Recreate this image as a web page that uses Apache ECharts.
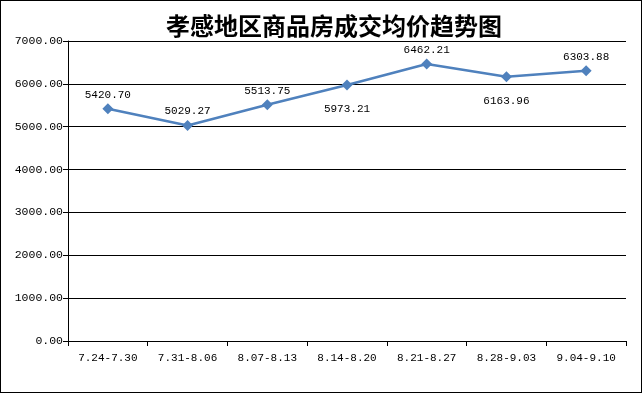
<!DOCTYPE html>
<html><head><meta charset="utf-8">
<script src="https://cdn.jsdelivr.net/npm/echarts@6/dist/echarts.min.js"></script>
<style>html,body{margin:0;padding:0;background:#fff}#c{width:642px;height:393px;box-sizing:border-box;border:1px solid #000}</style>
</head><body><div id="c"></div>
<script>
const categories = ['7.24-7.30','7.31-8.06','8.07-8.13','8.14-8.20','8.21-8.27','8.28-9.03','9.04-9.10'];
const prices = [5420.70, 5029.27, 5513.75, 5973.21, 6462.21, 6163.96, 6303.88];
const labelPos = ['top','top','top','bottom','top','bottom','top'];
const title = '孝感地区商品房成交均价趋势图';

const chart = echarts.init(document.getElementById('c'), null, {renderer:'canvas'});
const mono = '"Liberation Mono","DejaVu Sans Mono",monospace';
chart.setOption({
  animation:false,
  title:{text:title,left:160,top:8,textStyle:{fontFamily:'"Noto Sans CJK SC"',fontSize:24,fontWeight:'bold',color:'#000'}},
  grid:{left:67,right:15,top:40,bottom:51},
  xAxis:{type:'category',data:categories,boundaryGap:true,
    axisLine:{lineStyle:{color:'#000',width:1}},
    axisTick:{show:true,length:5,inside:false,lineStyle:{color:'#000'}},
    axisLabel:{color:'#000',fontFamily:mono,fontSize:11,margin:12,interval:0}},
  yAxis:{type:'value',min:0,max:7000,interval:1000,
    axisLine:{show:true,lineStyle:{color:'#000'}},
    axisTick:{show:true,length:5,lineStyle:{color:'#000'}},
    splitLine:{lineStyle:{color:'#000',width:1}},
    axisLabel:{color:'#000',fontFamily:mono,fontSize:11.5,margin:5,formatter:v=>v.toFixed(2)}},
  series:[{type:'line',data:prices.map((v,i)=>({value:v,label:{position:labelPos[i],distance:labelPos[i]==='top'?3:13}})),
    symbol:'diamond',symbolSize:11,
    lineStyle:{color:'#4F81BD',width:2.5},itemStyle:{color:'#4F81BD'},
    label:{show:true,color:'#000',fontFamily:mono,fontSize:11,formatter:p=>p.value.toFixed(2)}}]
});
</script></body></html>
